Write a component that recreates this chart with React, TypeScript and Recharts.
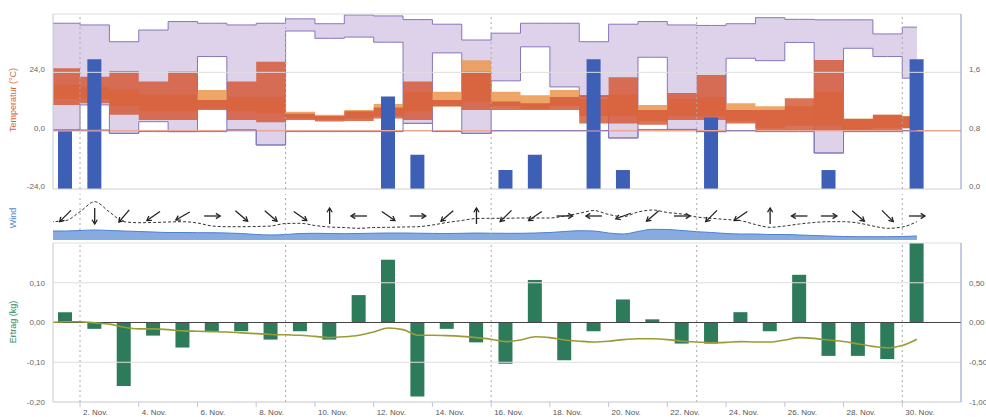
import React from 'react';
import {
  ComposedChart, Area, Bar, Line, Scatter, XAxis, YAxis, ReferenceLine,
} from 'recharts';

// ── x axis: days since 1. Nov 00:00 ─────────────────────────────────────────
const X_DOMAIN: [number, number] = [0.08, 31];
const TICK_X = [1, 3, 5, 7, 9, 11, 13, 15, 17, 19, 21, 23, 25, 27, 29];
const TICK_LABELS = [
  '2. Nov.', '4. Nov.', '6. Nov.', '8. Nov.', '10. Nov.', '12. Nov.', '14. Nov.', '16. Nov.',
  '18. Nov.', '20. Nov.', '22. Nov.', '24. Nov.', '26. Nov.', '28. Nov.', '30. Nov.',
];
const WEEK_LINES = [1, 8, 15, 22, 29];

// ── temperature bands (°C), one value per day ───────────────────────────────
const PURPLE_HIGH = [44.2, 43.5, 36.6, 41.4, 44.9, 44.2, 43.5, 44.2, 46, 44, 47.6, 47.2, 45.7, 43.8, 37.3,
  40.1, 44.2, 44.2, 36.6, 43.8, 44.9, 43.5, 43.3, 44, 46.5, 45.8, 45.6, 45.6, 39.8, 42.6];
const PURPLE_LOW = [0.3, 10.6, -1.1, 3.7, -0.4, 30.5, 0.3, -5.9, 41, 38, 38.5, 36.4, 3, 32, -1.1,
  20.5, 34.5, 18, 14, -3, 30.2, 0.5, -0.4, 29.8, 28.8, 36.3, -9.2, 33.9, 30.5, 21.6];
const PURPLE_BOTTOM = [0.3, 0.3, -1.1, -0.4, -0.4, -0.4, 0.3, -5.9, -0.4, -0.4, -0.4, -0.4, 3, -0.4, -1.1,
  0, 0, 0, 0, -3, 0.5, 0.5, -0.4, 0, -0.4, -0.4, -9.2, -0.4, -0.4, 0];
const RED_RANGE = [[10.6, 25.7], [11.3, 22.2], [6.5, 24.6], [4.4, 20.2], [4.4, 24.3], [8.5, 12.6], [4.4, 20.2],
  [3.5, 28.4], [4.4, 7], [3.8, 6], [4, 8], [5, 9.5], [4.4, 20.2], [9.9, 12.6], [8.5, 24.3], [8.5, 12],
  [8.5, 11.3], [8.5, 13.9], [3, 14.7], [3, 22], [2.4, 8.5], [4.4, 15.5], [4.4, 22.9], [3, 8.5], [0, 8.5],
  [0, 13.3], [0, 29.1], [-0.4, 4.8], [-0.4, 6.5], [1, 5.8]];
const ORANGE_RANGE = [[13, 19], [13, 18], [10, 17], [8, 15], [8, 15], [9, 16.7], [8, 14], [7, 14], [5, 7.8],
  [4.5, 6.5], [5, 8.5], [6, 11], [8, 16], [10, 16], [12, 29], [10, 16], [9, 14.6], [10, 16.7], [6, 13],
  [6, 15], [4, 10.6], [6, 13], [6, 14], [4, 11.3], [1, 10], [2, 10], [2, 16], [0.5, 5], [1, 6.5], [1, 6]];

// ── precipitation (right axis), per day ─────────────────────────────────────
const PRECIP = [0.8, 1.78, 0, 0, 0, 0, 0, 0, 0, 0, 0, 1.27, 0.47, 0, 0, 0.26, 0.47, 0, 1.78, 0.26,
  0, 0, 0.98, 0, 0, 0, 0.26, 0, 0, 1.78];

// ── wind, half-day samples ──────────────────────────────────────────────────
const WIND_SPEED = [18.3, 19.3, 28.3, 38.3, 28, 18.3, 17.3, 17.5, 18, 18.3, 17, 14, 13.3, 13.3, 13.5, 14,
  16.5, 16.7, 14.5, 13, 12.5, 11.7, 12.5, 12.7, 13, 13.3, 15, 17.5, 19.5, 21.5, 21.7, 21.7, 22, 22, 22, 24,
  26.7, 29.5, 25.5, 23.3, 28, 30, 27.5, 26, 23, 21.7, 20.5, 19.3, 15.5, 12.7, 14, 16, 17.5, 18.3, 18.3, 17,
  14, 11.7, 13, 18.3];
const WIND_AREA = [9, 9, 9.5, 10, 9.5, 9, 8.5, 8, 7.5, 7.5, 7.3, 7.3, 7, 6.5, 5.5, 5, 5.5, 6.5, 6.7, 6.5,
  6.3, 6.5, 6.8, 7, 7, 6.8, 6.6, 6.5, 6.7, 7, 6.8, 6.7, 6.7, 7, 7.5, 8.5, 9.3, 9, 7, 6, 8.5, 10.7, 10.5,
  9.5, 8.3, 7.5, 6.5, 6, 6, 5.5, 5.5, 5, 4.5, 4, 3.5, 3.3, 3.3, 3.3, 3.5, 4];
// arrow direction per day (screen degrees, 0 = east, 90 = up)
const WIND_DIR = [225, 270, 230, 215, 210, 0, 320, 320, 325, 90, 180, 325, 0, 220, 90,
  225, 215, 0, 180, 200, 220, 0, 225, 215, 90, 180, 0, 320, 315, 0];
const ARROW_LEVEL = 24;

// ── yield (kg) per day and cumulative (right axis), half-day samples ────────
const YIELD = [0.026, -0.016, -0.16, -0.033, -0.063, -0.022, -0.022, -0.043, -0.022, -0.043, 0.069, 0.158,
  -0.186, -0.016, -0.05, -0.104, 0.107, -0.095, -0.022, 0.058, 0.008, -0.053, -0.053, 0.026, -0.022, 0.12,
  -0.084, -0.084, -0.092, 0.2];
const CUM = [0, 0.01, 0.01, -0.005, -0.02, -0.06, -0.08, -0.08, -0.09, -0.105, -0.11, -0.115, -0.12, -0.13,
  -0.14, -0.15, -0.155, -0.16, -0.175, -0.19, -0.18, -0.16, -0.12, -0.07, -0.09, -0.16, -0.16, -0.165, -0.175,
  -0.19, -0.21, -0.24, -0.22, -0.18, -0.19, -0.22, -0.235, -0.245, -0.235, -0.215, -0.205, -0.205, -0.215,
  -0.235, -0.245, -0.255, -0.25, -0.24, -0.245, -0.245, -0.22, -0.19, -0.2, -0.22, -0.24, -0.27, -0.3, -0.32,
  -0.29, -0.21];

const rows = CUM.map((cum, i) => {
  const d = Math.floor(i / 2);
  const mid = i % 2 === 1;
  return {
    x: i / 2,
    purple: [PURPLE_LOW[d], PURPLE_HIGH[d]],
    bottom: PURPLE_BOTTOM[d],
    red: RED_RANGE[d],
    orange: ORANGE_RANGE[d],
    precip: mid && PRECIP[d] > 0 ? PRECIP[d] : null,
    yieldKg: mid ? YIELD[d] : null,
    cum,
    wind: WIND_SPEED[i],
    windArea: WIND_AREA[i],
  };
});
const arrows = WIND_DIR.map((dir, d) => ({ x: d + 0.5, y: ARROW_LEVEL, dir }));

const FONT = '"Liberation Sans", Arial, sans-serif';
const tickStyle = { fontSize: 8, fill: '#666', fontFamily: FONT };
const comma = (n: number) => (v: number) => v.toFixed(n).replace('.', ',');
const PURPLE = '#8576bd';

// y tick that sits a little above its grid line, like the original
function makeYTick(digits: number, lift: number) {
  return function YTick(props: any) {
    const { x, y, payload, textAnchor } = props;
    return (
      <text x={x} y={y - lift} dy="0.355em" textAnchor={textAnchor} fontSize={8} fill="#666"
        fontFamily={FONT}>{comma(digits)(payload.value)}</text>
    );
  };
}
const TopTick = makeYTick(1, 3);

function WindArrow(props: any) {
  const { cx, cy, payload } = props;
  if (cx == null || cy == null) return null;
  const a = (payload.dir * Math.PI) / 180;
  const len = 8;
  const hx = cx + Math.cos(a) * len, hy = cy - Math.sin(a) * len;
  const tx = cx - Math.cos(a) * len, ty = cy + Math.sin(a) * len;
  const b1 = a + Math.PI - 0.55, b2 = a + Math.PI + 0.55;
  return (
    <g stroke="#222" strokeWidth={1.3} fill="none">
      <line x1={tx} y1={ty} x2={hx} y2={hy} />
      <polyline points={`${hx + Math.cos(b1) * 5},${hy - Math.sin(b1) * 5} ${hx},${hy} ${hx + Math.cos(b2) * 5},${hy - Math.sin(b2) * 5}`} />
    </g>
  );
}

function DateTick(props: any) {
  const { x, y, payload } = props;
  const label = TICK_LABELS[TICK_X.indexOf(payload.value)];
  return (
    <text x={x + 3} y={y} dy="0.71em" fontSize={8} fill="#555" fontFamily={FONT}>{label}</text>
  );
}

export default function App() {
  return (
    <div style={{ position: 'relative', width: 986, height: 417, background: '#fff', overflow: 'hidden' }}>
      <style>{'body{margin:0}'}</style>

      {/* ── Wind ── */}
      <div style={{ position: 'absolute', left: 0, top: 192 }}>
        <ComposedChart width={986} height={50} data={rows} margin={{ top: 2, right: 25, bottom: 2, left: 53 }}>
          <XAxis type="number" dataKey="x" domain={X_DOMAIN} allowDataOverflow hide />
          <YAxis type="number" domain={[0, 46]} hide />
          {WEEK_LINES.map(x => (
            <ReferenceLine key={x} x={x} stroke="#aaa" strokeDasharray="2 3" />
          ))}
          <Area dataKey="windArea" type="monotone" fill="#86abe0" fillOpacity={1} stroke="#4f80cc"
            strokeWidth={1} isAnimationActive={false} />
          <Line dataKey="wind" type="monotone" stroke="#333" strokeWidth={1} strokeDasharray="3 2"
            dot={false} isAnimationActive={false} />
          <Scatter data={arrows} dataKey="y" shape={WindArrow} isAnimationActive={false} />
        </ComposedChart>
      </div>

      {/* ── Temperatur + Niederschlag ── */}
      <div style={{ position: 'absolute', left: 0, top: 0 }}>
        <ComposedChart width={986} height={200} data={rows} margin={{ top: 14, right: 0, bottom: 11, left: 0 }}>
          <XAxis type="number" dataKey="x" domain={X_DOMAIN} allowDataOverflow hide />
          <YAxis yAxisId="t" domain={[-24, 48]} ticks={[-24, 0, 24]} interval={0} width={53}
            tick={<TopTick />} tickLine={false} axisLine={{ stroke: '#c8cad8' }} />
          <YAxis yAxisId="p" orientation="right" domain={[0, 2.4]} ticks={[0, 0.8, 1.6]} interval={0} width={25}
            tick={<TopTick />} tickLine={false} axisLine={{ stroke: '#8a96cc' }} />
          <ReferenceLine yAxisId="t" y={48} stroke="#dedede" />
          <ReferenceLine yAxisId="t" y={24} stroke="#dedede" />
          <ReferenceLine yAxisId="t" y={-24} stroke="#d0d0d0" />
          <ReferenceLine yAxisId="t" y={0} stroke="#eaa796" strokeWidth={1.5} />
          {WEEK_LINES.map(x => (
            <ReferenceLine key={x} yAxisId="t" x={x} stroke="#aaa" strokeDasharray="2 3" />
          ))}
          <Area yAxisId="t" dataKey="purple" type="stepAfter" fill="#ddd2ea" fillOpacity={1}
            stroke={PURPLE} strokeWidth={1} isAnimationActive={false} />
          <Line yAxisId="t" dataKey="bottom" type="stepAfter" stroke={PURPLE} strokeWidth={1}
            dot={false} isAnimationActive={false} />
          <Area yAxisId="t" dataKey="orange" type="stepAfter" fill="#eb9b58" fillOpacity={0.9}
            stroke="none" isAnimationActive={false} />
          <Area yAxisId="t" dataKey="red" type="stepAfter" fill="#d55b3a" fillOpacity={0.85}
            stroke="none" isAnimationActive={false} />
          <Bar yAxisId="p" dataKey="precip" fill="#3d5fb6" barSize={14} isAnimationActive={false} />
        </ComposedChart>
      </div>

      {/* ── Ertrag ── */}
      <div style={{ position: 'absolute', left: 0, top: 242 }}>
        <ComposedChart width={986} height={175} data={rows} margin={{ top: 1, right: 0, bottom: 0, left: 0 }}>
          <XAxis type="number" dataKey="x" domain={X_DOMAIN} allowDataOverflow ticks={TICK_X} height={15}
            tick={<DateTick />} tickSize={5} tickMargin={2} tickLine={{ stroke: '#c0c6d8' }}
            axisLine={{ stroke: '#c8c8c8' }} interval={0} />
          <YAxis yAxisId="y" domain={[-0.2, 0.2]} ticks={[-0.2, -0.1, 0, 0.1]} interval={0} width={53}
            tickFormatter={comma(2)} tick={tickStyle} tickLine={false} axisLine={{ stroke: '#c8cad8' }} />
          <YAxis yAxisId="c" orientation="right" domain={[-1, 1]} ticks={[-1, -0.5, 0, 0.5]} interval={0} width={25}
            tickFormatter={comma(2)} tick={tickStyle} tickLine={false} axisLine={{ stroke: '#8a96cc' }} />
          <ReferenceLine yAxisId="y" y={0.2} stroke="#dedede" />
          <ReferenceLine yAxisId="y" y={0.1} stroke="#dedede" />
          <ReferenceLine yAxisId="y" y={-0.1} stroke="#dedede" />
          {WEEK_LINES.map(x => (
            <ReferenceLine key={x} yAxisId="y" x={x} stroke="#aaa" strokeDasharray="2 3" />
          ))}
          <Bar yAxisId="y" dataKey="yieldKg" fill="#2e7b5c" barSize={14} isAnimationActive={false} />
          <ReferenceLine yAxisId="y" y={0} stroke="#444" />
          <Line yAxisId="c" dataKey="cum" type="monotone" stroke="#9b9b35" strokeWidth={1.6}
            dot={false} isAnimationActive={false} />
        </ComposedChart>
      </div>

      {/* ── axis titles ── */}
      <svg width={986} height={417} style={{ position: 'absolute', left: 0, top: 0, pointerEvents: 'none' }}>
        <text transform="translate(16,100) rotate(-90)" textAnchor="middle" fontSize={9}
          fill="#d4643f" fontFamily={FONT}>Temperatur (°C)</text>
        <text transform="translate(16,218) rotate(-90)" textAnchor="middle" fontSize={9}
          fill="#5b8fd6" fontFamily={FONT}>Wind</text>
        <text transform="translate(16,322) rotate(-90)" textAnchor="middle" fontSize={9}
          fill="#2f8a60" fontFamily={FONT}>Ertrag (kg)</text>
      </svg>
    </div>
  );
}
